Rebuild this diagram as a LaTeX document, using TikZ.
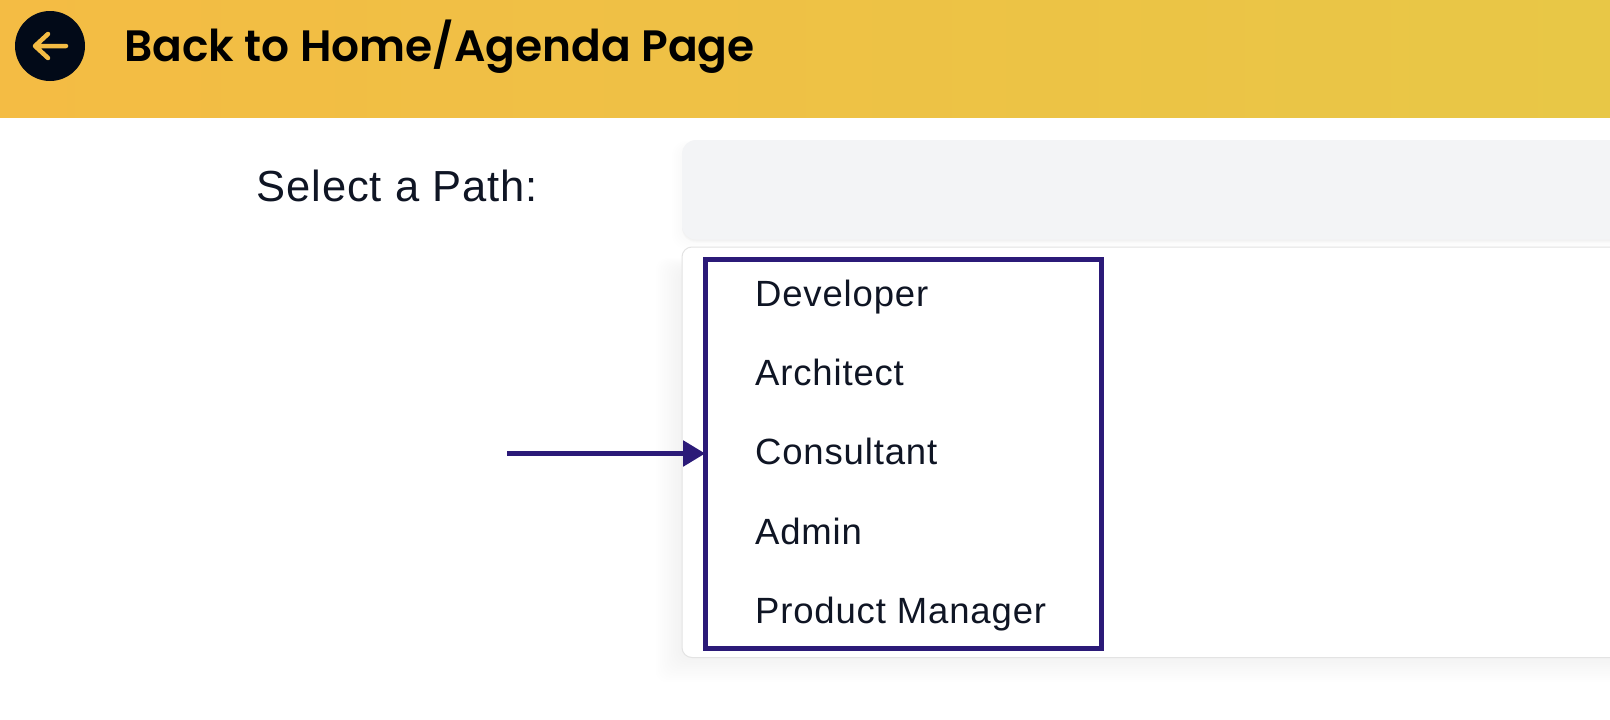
\documentclass[tikz,border=0pt]{standalone}
\usepackage{fontspec}
\setmainfont[LetterSpace=2.3]{Liberation Sans}
\newfontfamily\headfont[UprightFont={* SemiBold},BoldFont={* SemiBold}]{Poppins}
\usetikzlibrary{arrows.meta}
\definecolor{ink}{HTML}{0F1524}
\definecolor{navy}{HTML}{2B1A78}
\definecolor{disc}{HTML}{020A18}
\definecolor{amberL}{HTML}{F4BC44}
\definecolor{amberR}{HTML}{E8C746}
\definecolor{fieldgrey}{HTML}{F3F4F6}
\tikzset{
  x=1pt,y=-1pt,
  itemlabel/.style={anchor=base west,inner sep=0pt,font=\fontsize{36.5}{36.5}\selectfont,text=ink},
  callout/.style={draw=navy,line width=5pt},
  softshadow/.style={fill=black,opacity=0.004,rounded corners=#1},
}
\begin{document}
\begin{tikzpicture}
\useasboundingbox (0,0) rectangle (1610,720);
\fill[white] (0,0) rectangle (1610,720);
\shade[left color=amberL,right color=amberR] (0,0) rectangle (1610,117.5);
\node[circle,fill=disc,minimum size=70pt,inner sep=0pt] (disc) at (50,46) {};
\coordinate (arrowtail) at (66,46);
\coordinate (arrowhead) at (35,46);
\draw[amberL,line width=4.5pt,line cap=round,line join=round]
  (arrowtail) -- (arrowhead) (48,34) -- (arrowhead) -- (48,58);
\node[anchor=base west,inner sep=0pt,font=\headfont\fontsize{43.9}{44}\selectfont,text=black] (title) at (124,61) {Back to Home/Agenda Page};
\node[itemlabel,font=\fontsize{43.5}{43.5}\selectfont] (pathlabel) at (256,201) {Select a Path:};
% field shadow
\foreach \g in {1,...,5}{
  \fill[softshadow=14pt] (682-2*\g,146-\g) rectangle (1650,239+2*\g);
}
\foreach \g in {1,...,3}{
  \fill[fill=black,opacity=0.01,rounded corners=14pt] (682,146) rectangle (1650,239.5+\g);
}
\fill[fieldgrey,rounded corners=14pt] (682,140) rectangle (1650,239.5);
% list shadow
\foreach \g in {1,...,12}{
  \fill[softshadow=12pt] (682-2.2*\g,270-\g) rectangle (1650,656+2.2*\g);
}
\fill[white,draw=black!11,line width=1pt,rounded corners=10pt] (682,247) rectangle (1650,657.5);
\node[itemlabel] (i1) at (755,306) {Developer};
\node[itemlabel] (i2) at (755,385) {Architect};
\node[itemlabel] (i3) at (755,464) {Consultant};
\node[itemlabel] (i4) at (755,544) {Admin};
\node[itemlabel] (i5) at (755,623) {Product Manager};
\node[callout,minimum width=396pt,minimum height=388.5pt,inner sep=0pt] (box) at (903.7,453.75) {};
\coordinate (tail) at (507,453.5);
\draw[navy,line width=5pt,-{Triangle[length=22pt,width=25pt]},shorten >=-2pt] (tail) -- (tail-|box.west);
\end{tikzpicture}
\end{document}
